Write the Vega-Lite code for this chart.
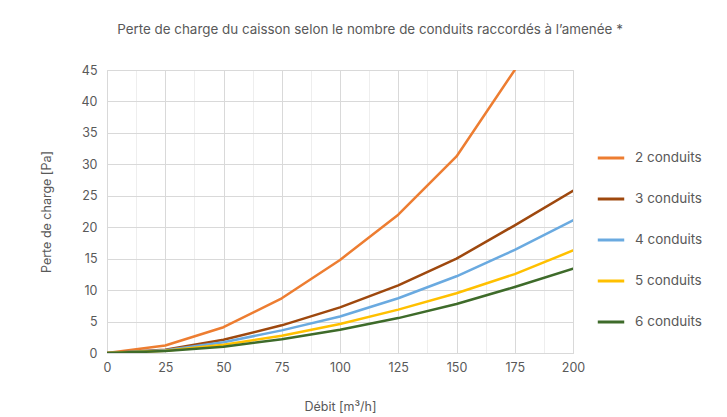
{
  "$schema": "https://vega.github.io/schema/vega-lite/v6.json",
  "width": 466,
  "height": 283,
  "autosize": {"type": "none"},
  "padding": {"left": 107, "top": 70, "right": 154, "bottom": 64},
  "background": "white",
  "config": {
    "font": "Inter",
    "view": {"stroke": "#d9d9d9", "strokeWidth": 1}
  },
  "title": {
    "text": "Perte de charge du caisson selon le nombre de conduits raccordés à l’amenée *",
    "anchor": "middle",
    "frame": "group",
    "dx": 30,
    "offset": 28,
    "fontSize": 13.4,
    "fontWeight": "normal",
    "color": "#595959"
  },
  "data": {
    "values": [
      {"debit": 0, "serie": "2 conduits", "perte": 0},
      {"debit": 25, "serie": "2 conduits", "perte": 1.2},
      {"debit": 50, "serie": "2 conduits", "perte": 4.1},
      {"debit": 75, "serie": "2 conduits", "perte": 8.7},
      {"debit": 100, "serie": "2 conduits", "perte": 14.8},
      {"debit": 125, "serie": "2 conduits", "perte": 22.0},
      {"debit": 150, "serie": "2 conduits", "perte": 31.25},
      {"debit": 175, "serie": "2 conduits", "perte": 45.0},
      {"debit": 0, "serie": "3 conduits", "perte": 0},
      {"debit": 25, "serie": "3 conduits", "perte": 0.53},
      {"debit": 50, "serie": "3 conduits", "perte": 2.1},
      {"debit": 75, "serie": "3 conduits", "perte": 4.4},
      {"debit": 100, "serie": "3 conduits", "perte": 7.25},
      {"debit": 125, "serie": "3 conduits", "perte": 10.75},
      {"debit": 150, "serie": "3 conduits", "perte": 15.0},
      {"debit": 175, "serie": "3 conduits", "perte": 20.3},
      {"debit": 200, "serie": "3 conduits", "perte": 25.8},
      {"debit": 0, "serie": "4 conduits", "perte": 0},
      {"debit": 25, "serie": "4 conduits", "perte": 0.45},
      {"debit": 50, "serie": "4 conduits", "perte": 1.7},
      {"debit": 75, "serie": "4 conduits", "perte": 3.6},
      {"debit": 100, "serie": "4 conduits", "perte": 5.8},
      {"debit": 125, "serie": "4 conduits", "perte": 8.7},
      {"debit": 150, "serie": "4 conduits", "perte": 12.2},
      {"debit": 175, "serie": "4 conduits", "perte": 16.4},
      {"debit": 200, "serie": "4 conduits", "perte": 21.1},
      {"debit": 0, "serie": "5 conduits", "perte": 0},
      {"debit": 25, "serie": "5 conduits", "perte": 0.35},
      {"debit": 50, "serie": "5 conduits", "perte": 1.3},
      {"debit": 75, "serie": "5 conduits", "perte": 2.75},
      {"debit": 100, "serie": "5 conduits", "perte": 4.6},
      {"debit": 125, "serie": "5 conduits", "perte": 6.9},
      {"debit": 150, "serie": "5 conduits", "perte": 9.5},
      {"debit": 175, "serie": "5 conduits", "perte": 12.55},
      {"debit": 200, "serie": "5 conduits", "perte": 16.3},
      {"debit": 0, "serie": "6 conduits", "perte": 0},
      {"debit": 25, "serie": "6 conduits", "perte": 0.3},
      {"debit": 50, "serie": "6 conduits", "perte": 1.0},
      {"debit": 75, "serie": "6 conduits", "perte": 2.2},
      {"debit": 100, "serie": "6 conduits", "perte": 3.7},
      {"debit": 125, "serie": "6 conduits", "perte": 5.55},
      {"debit": 150, "serie": "6 conduits", "perte": 7.8},
      {"debit": 175, "serie": "6 conduits", "perte": 10.5},
      {"debit": 200, "serie": "6 conduits", "perte": 13.4}
    ]
  },
  "mark": {"type": "line", "strokeWidth": 2.5, "clip": true, "strokeCap": "round", "strokeJoin": "round"},
  "encoding": {
    "x": {
      "field": "debit",
      "type": "quantitative",
      "scale": {"domain": [0, 200], "nice": false},
      "axis": {
        "title": "Débit [m³/h]",
        "values": [0, 12.5, 25, 37.5, 50, 62.5, 75, 87.5, 100, 112.5, 125, 137.5, 150, 162.5, 175, 187.5, 200],
        "labelExpr": "datum.value % 25 === 0 ? datum.label : ''",
        "labelFlush": false,
        "labelOverlap": false,
        "labelFontSize": 12.5,
        "labelColor": "#595959",
        "labelPadding": 8,
        "ticks": false,
        "domainColor": "#d9d9d9",
        "gridColor": {"condition": {"test": "datum.value % 25 !== 0", "value": "#eeeeee"}, "value": "#d9d9d9"},
        "titleFontSize": 12.5,
        "titleFontWeight": "normal",
        "titleColor": "#595959",
        "titlePadding": 27
      }
    },
    "y": {
      "field": "perte",
      "type": "quantitative",
      "scale": {"domain": [0, 45], "nice": false},
      "axis": {
        "title": "Perte de charge [Pa]",
        "values": [0, 5, 10, 15, 20, 25, 30, 35, 40, 45],
        "labelFontSize": 12.5,
        "labelColor": "#595959",
        "labelPadding": 10,
        "ticks": false,
        "domain": false,
        "gridColor": "#d9d9d9",
        "titleFontSize": 12.5,
        "titleFontWeight": "normal",
        "titleColor": "#595959",
        "titlePadding": 28
      }
    },
    "color": {
      "field": "serie",
      "type": "nominal",
      "scale": {
        "domain": ["2 conduits", "3 conduits", "4 conduits", "5 conduits", "6 conduits"],
        "range": ["#ED7D31", "#9E480E", "#6AAAE0", "#FFC000", "#3E6B2A"]
      },
      "legend": {
        "title": null,
        "orient": "none",
        "legendX": 489,
        "legendY": 73,
        "symbolType": "stroke",
        "symbolSize": 700,
        "symbolStrokeWidth": 3,
        "labelFontSize": 13.5,
        "labelColor": "#595959",
        "labelOffset": 9,
        "rowPadding": 19
      }
    }
  }
}
